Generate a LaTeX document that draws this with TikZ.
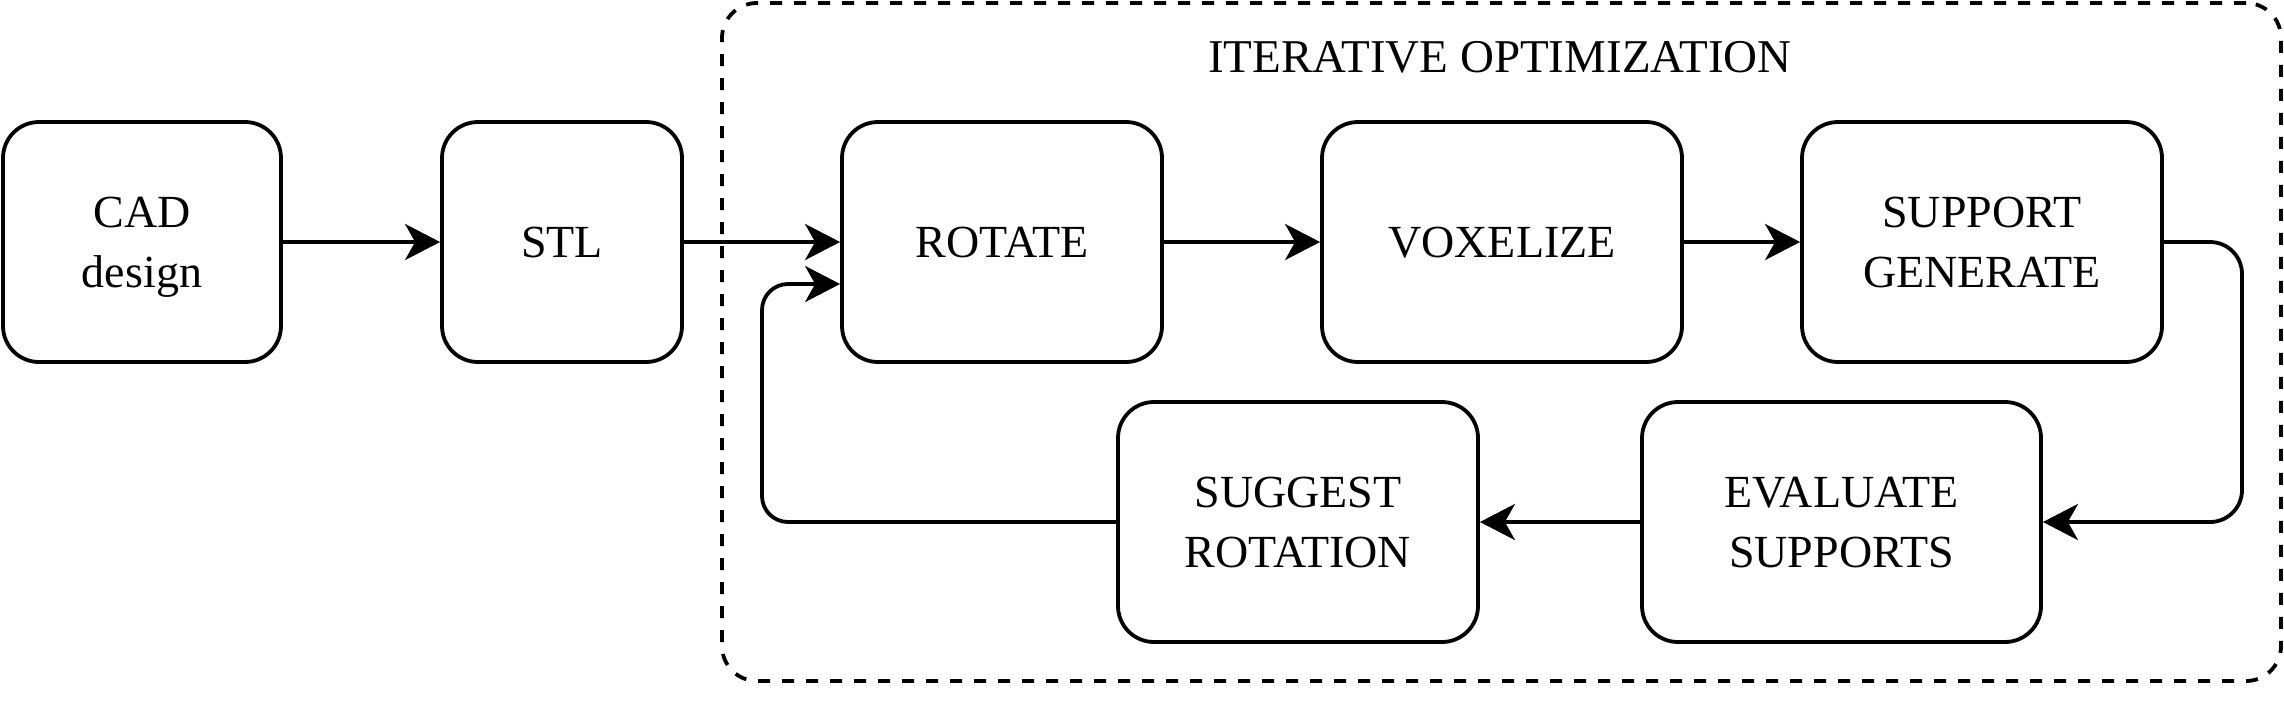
\documentclass[tikz,border=0pt]{standalone}
\usepackage{fontspec}
\setmainfont{Liberation Serif}
\usetikzlibrary{arrows.meta,calc}
\begin{document}
\begin{tikzpicture}[x=1pt,y=1pt,
  every node/.style={font=\fontsize{46}{60}\selectfont},
  stepbox/.style={draw,line width=3.8pt,rounded corners=36pt,minimum height=240pt,inner sep=0pt,align=center,text depth=0pt},
  arr/.style={line width=3.8pt,-{Stealth[length=35pt,width=36pt,inset=10pt]}},
  groupbox/.style={draw,line width=3.8pt,dash pattern=on 12pt off 12pt,rounded corners=35pt,inner sep=0pt}
]
\useasboundingbox (0,0) rectangle (2284,-724);
\node[groupbox,minimum width=1559pt,minimum height=678pt] (grp) at (1501.5,-342) {};
\node[anchor=base,font=\fontsize{47}{60}\selectfont] (title) at (1500,-72.5) {ITERATIVE OPTIMIZATION};
\node[stepbox,minimum width=278pt] (cad) at (142,-242) {CAD\\design};
\node[stepbox,minimum width=240pt] (stl) at (562,-242) {STL};
\node[stepbox,minimum width=320pt] (rot) at (1002,-242) {ROTATE};
\node[stepbox,minimum width=360pt] (vox) at (1502,-242) {VOXELIZE};
\node[stepbox,minimum width=360pt] (sup) at (1982,-242) {SUPPORT\\GENERATE};
\node[stepbox,minimum width=399pt] (eva) at (1841.5,-522) {EVALUATE\\SUPPORTS};
\node[stepbox,minimum width=360pt] (sug) at (1298,-522) {SUGGEST\\ROTATION};
\coordinate (rp) at (2242,-242);
\coordinate (lp) at (762,-284);
\draw[arr] (cad.east) -- (stl.west);
\draw[arr] (stl.east) -- (rot.west);
\draw[arr] (rot.east) -- (vox.west);
\draw[arr] (vox.east) -- (sup.west);
\draw[arr,rounded corners=32pt] (sup.east) -- (rp) |- (eva.east);
\draw[arr] (eva.west) -- (sug.east);
\draw[arr,rounded corners=26pt] (sug.west) -| (lp) -- ([yshift=-42pt]rot.west);
\end{tikzpicture}
\end{document}
